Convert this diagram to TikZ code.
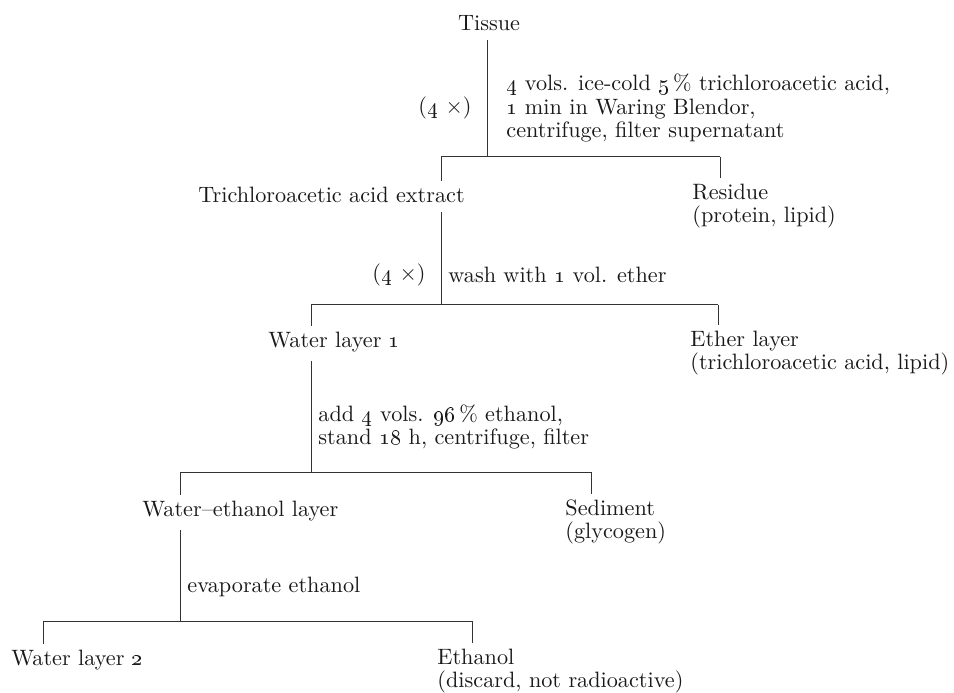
\documentclass[tikz,border=0pt]{standalone}
\usetikzlibrary{positioning}

\begin{document}
\begin{tikzpicture}[
  x=0.45pt, y=-0.45pt,
  txt/.style={font=\fontsize{10}{10.4}\selectfont, inner sep=0pt,
    align=left, anchor=west, text=black!90},
  branch/.style={line width=0.45pt, black!80},
  tick/.style={branch, shorten >=2.5pt},
  stem/.style={branch, shorten <=4pt},
]
  \useasboundingbox (0,0) rectangle (954,693);

  %% ---- Fractions ----
  \node[txt, anchor=center] (tissue) at (489,23) {Tissue};
  \node[txt] (extract)  at (198,195) {Trichloroacetic acid extract};
  \node[txt] (residue)  at (692,206) {Residue\\(protein, lipid)};
  \node[txt] (water1)   at (268,342) {Water layer \oldstylenums{1}};
  \node[txt] (ether)    at (690,353) {Ether layer\\(trichloroacetic acid, lipid)};
  \node[txt] (watereth) at (142,511) {Water--ethanol layer};
  \node[txt] (sediment) at (565,522) {Sediment\\(glycogen)};
  \node[txt] (water2)   at (11,660)  {Water layer \oldstylenums{2}};
  \node[txt] (ethanol)  at (437,671) {Ethanol\\(discard, not radioactive)};

  %% ---- Treatments ----
  \node[txt] (cond1) at (506,108) {\oldstylenums{4} vols. ice-cold \oldstylenums{5}\,\% trichloroacetic acid,\\
    \oldstylenums{1} min in Waring Blendor,\\centrifuge, filter supernatant};
  \node[txt, anchor=east] (rep1) at (472,108) {(\oldstylenums{4}\ $\times$)};
  \node[txt] (cond2) at (448,275) {wash with \oldstylenums{1} vol. ether};
  \node[txt, anchor=east] (rep2) at (426,275) {(\oldstylenums{4}\ $\times$)};
  \node[txt] (cond3) at (318,427) {add \oldstylenums{4} vols. \oldstylenums{96}\,\% ethanol,\\
    stand \oldstylenums{18} h, centrifuge, filter};
  \node[txt] (cond4) at (187,587) {evaporate ethanol};

  %% ---- Split points ----
  \coordinate (s1) at (487,157); \coordinate (s1w) at (441,157); \coordinate (s1e) at (720,157);
  \coordinate (s2) at (441,305); \coordinate (s2w) at (311,305); \coordinate (s2e) at (718,305);
  \coordinate (s3) at (311,472); \coordinate (s3w) at (180,472); \coordinate (s3e) at (591,472);
  \coordinate (s4) at (180,621); \coordinate (s4w) at (43,621);  \coordinate (s4e) at (472,621);

  %% ---- Stems ----
  \draw[stem] (tissue.south -| s1)   -- (s1);
  \draw[stem] (extract.south -| s2)  -- (s2);
  \draw[stem] (water1.south -| s3)   -- (s3);
  \draw[stem] (watereth.south -| s4) -- (s4);

  %% ---- Bars and ticks ----
  \foreach \s/\l/\r in {1/extract/residue,2/water1/ether,3/watereth/sediment,4/water2/ethanol}{
    \draw[branch] (s\s w) -- (s\s e);
    \draw[tick] (s\s w) -- (\l.north -| s\s w);
    \draw[tick] (s\s e) -- (\r.north -| s\s e);
  }

\end{tikzpicture}
\end{document}
